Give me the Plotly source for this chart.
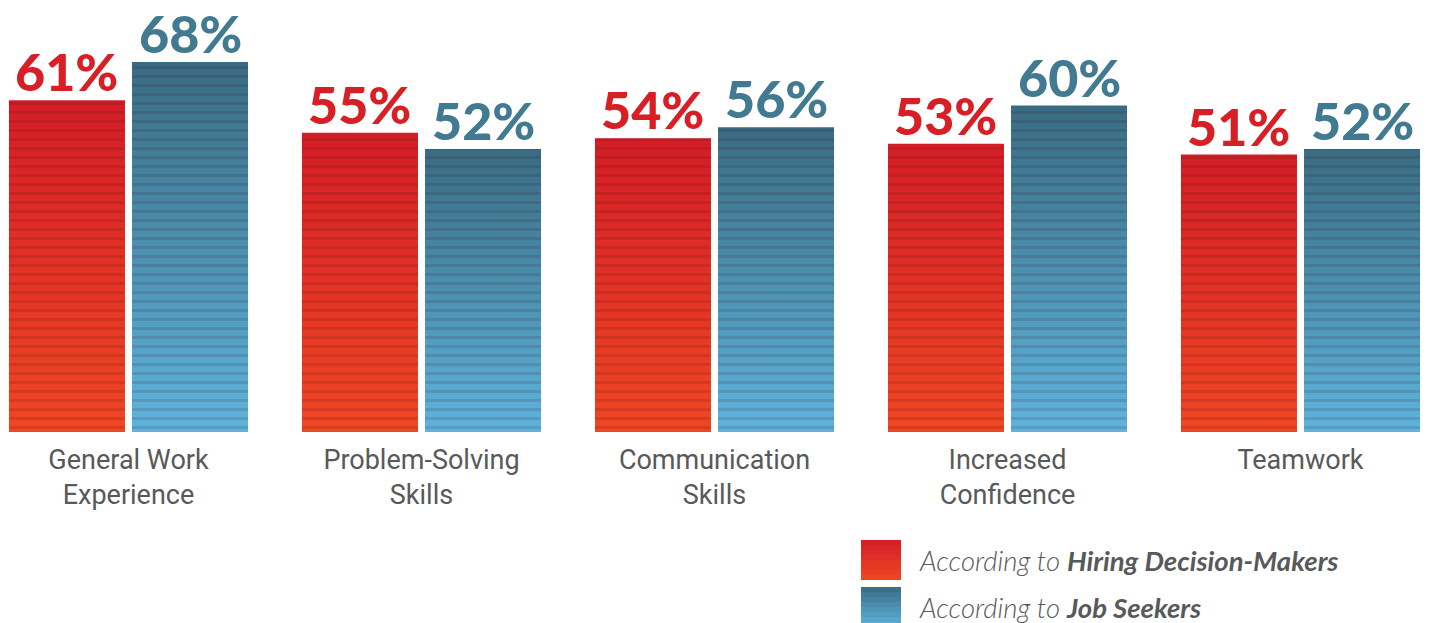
import plotly.graph_objects as go

categories = ["General Work<br>Experience", "Problem-Solving<br>Skills", "Communication<br>Skills",
              "Increased<br>Confidence", "Teamwork"]
hiring = [61, 55, 54, 53, 51]
seekers = [68, 52, 56, 60, 52]
series_names = ["Hiring Decision-Makers", "Job Seekers"]

RED_TOP, RED_BOT = "#d41d27", "#f04723"
BLUE_TOP, BLUE_BOT = "#396c83", "#5eb4de"
RED_TXT, BLUE_TXT = "#d91f26", "#417a91"
GRAY = "#58595b"

BAR_W = 0.396
HALF_SEP = 0.21
idx = list(range(len(categories)))
XR = [-128.5 / 293, -128.5 / 293 + 1430 / 293]
YR = [0, 432 / 5.44]

fig = go.Figure()

series = [
    (hiring, -HALF_SEP, RED_TOP, RED_BOT, RED_TXT),
    (seekers, HALF_SEP, BLUE_TOP, BLUE_BOT, BLUE_TXT),
]

# gradient fills
for vals, off, top, bot, _ in series:
    for i, v in zip(idx, vals):
        xl = i + off - BAR_W / 2
        xr = i + off + BAR_W / 2
        fig.add_trace(go.Scatter(
            x=[xl, xr, xr, xl, xl], y=[0, 0, v, v, 0],
            mode="lines", line=dict(width=0), fill="toself",
            fillgradient=dict(type="vertical", colorscale=[[0, bot], [1, top]], start=0, stop=v),
            hoverinfo="skip", showlegend=False))

# bars with stripe pattern, on an overlaid axis pair so they sit above the gradients
for (vals, off, top, bot, txt), name in zip(series, series_names):
    fig.add_trace(go.Bar(
        x=idx, y=vals, width=BAR_W, offset=off - BAR_W / 2, name=name,
        xaxis="x2", yaxis="y2",
        marker=dict(color="rgba(255,255,255,0)", line=dict(width=0),
                    pattern=dict(shape="-", size=9, solidity=0.33, fillmode="replace",
                                 fgcolor="rgba(60,10,10,0.14)", bgcolor="rgba(255,255,255,0)")),
        showlegend=False, hoverinfo="skip"))
    for i, v in zip(idx, vals):
        fig.add_annotation(x=i + off, y=v, text=f"{v}%", showarrow=False, yanchor="bottom",
                           yshift=-4, font=dict(family="Lato", size=52, color=txt, weight=900))


def mix(c1, c2, t):
    a = [int(c1[k:k + 2], 16) for k in (1, 3, 5)]
    b = [int(c2[k:k + 2], 16) for k in (1, 3, 5)]
    return "rgb(%d,%d,%d)" % tuple(round(a[j] + (b[j] - a[j]) * t) for j in range(3))


# legend
legend_rows = [(RED_TOP, RED_BOT, "Hiring Decision-Makers", 560), (BLUE_TOP, BLUE_BOT, "Job Seekers", 607)]
NB = 8
for top, bot, label, py in legend_rows:
    for k in range(NB):
        ya = py + 20 - 40 * k / NB
        yb = py + 20 - 40 * (k + 1) / NB
        fig.add_shape(type="rect", xref="paper", yref="paper", x0=861 / 1430, x1=901 / 1430,
                      y0=(432 - ya) / 432, y1=(432 - yb) / 432,
                      fillcolor=mix(bot, top, (k + 0.5) / NB), line=dict(width=0))
    fig.add_annotation(xref="paper", yref="paper", x=917 / 1430, y=(432 - py) / 432,
                       xanchor="left", yanchor="middle", showarrow=False,
                       text=f"<i>According to <b>{label}</b></i>",
                       font=dict(family="Lato", size=27.5, color=GRAY, weight=300))

fig.update_layout(
    width=1430, height=623, margin=dict(l=0, r=0, t=0, b=191),
    plot_bgcolor="white", paper_bgcolor="white", barmode="overlay",
    xaxis=dict(range=XR, tickvals=idx, ticktext=categories,
               showgrid=False, zeroline=False, showline=False, ticks="", ticklabelstandoff=9,
               tickfont=dict(family="Roboto", size=27, color=GRAY)),
    yaxis=dict(range=YR, visible=False),
    xaxis2=dict(range=XR, overlaying="x", visible=False),
    yaxis2=dict(range=YR, overlaying="y", visible=False),
    showlegend=False,
)

fig.write_html("out.html")
